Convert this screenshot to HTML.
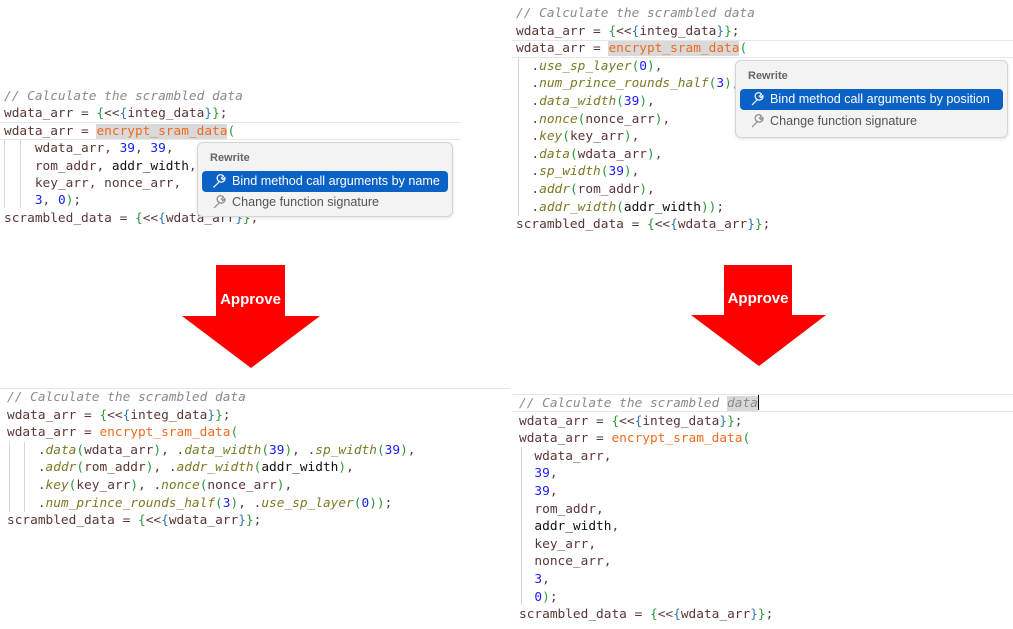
<!DOCTYPE html>
<html><head><meta charset="utf-8"><style>
body{margin:0;width:1013px;height:629px;background:#fff;position:relative;overflow:hidden;font-family:"DejaVu Sans Mono","Liberation Mono",monospace;}
.code{position:absolute;font-size:12.8px;white-space:pre;color:#5b3636;}
.l{position:absolute;left:0;white-space:pre;line-height:17px;}
.c{color:#8a8a8a;font-style:italic}
.f{color:#f06a1e}
.n{color:#1a1aff}
.m{color:#7a7a25;font-style:italic}
.k{color:#111}
.g{color:#2a9a3a}
.b{color:#2a7ab0}
.hl{background:#d9d9d9}
.cur{position:absolute;border-top:1px solid #e6e6e6;border-bottom:1px solid #e6e6e6;height:16px}
.guide{position:absolute;width:1px;background:#d6d6d6}
.pop{position:absolute;background:#f3f3f3;border:1px solid #d4d4d4;border-radius:6px;box-shadow:0 1px 3px rgba(0,0,0,.12);font-family:"Liberation Sans","DejaVu Sans",sans-serif;font-size:12.6px;color:#555;white-space:nowrap}
.pop .t{position:absolute;left:12px;font-weight:bold;font-size:11px;color:#666}
.pop .it{position:absolute;left:4px;right:4px;height:21px;border-radius:4px;line-height:21px;padding-left:30px;box-sizing:border-box}
.pop .sel{background:#0a62c6;color:#fff}
.pop .it svg{position:absolute;left:10px;top:3px}
.arrow{position:absolute}
</style></head><body>

<!-- TOP LEFT -->
<div class="cur" style="left:0;top:122px;width:460px"></div>
<div class="guide" style="left:4px;top:140px;height:68px"></div>
<div class="guide" style="left:20px;top:140px;height:68px"></div>
<div class="code" style="left:4px;top:88px">
<div class="l" style="top:0"><span class="c">// Calculate the scrambled data</span></div>
<div class="l" style="top:17.4px">wdata_arr = <span class="g">{</span>&lt;&lt;<span class="b">{</span>integ_data<span class="b">}</span><span class="g">}</span>;</div>
<div class="l" style="top:34.8px">wdata_arr = <span class="f hl">encrypt_sram_data</span><span class="g">(</span></div>
<div class="l" style="top:52.2px">    wdata_arr, <span class="n">39</span>, <span class="n">39</span>,</div>
<div class="l" style="top:69.6px">    rom_addr, <span class="k">addr_width</span>,</div>
<div class="l" style="top:87px">    key_arr, nonce_arr,</div>
<div class="l" style="top:104.4px">    <span class="n">3</span>, <span class="n">0</span><span class="g">)</span>;</div>
<div class="l" style="top:121.8px">scrambled_data = <span class="g">{</span>&lt;&lt;<span class="b">{</span>wdata_arr<span class="b">}</span><span class="g">}</span>;</div>
</div>
<div class="pop" style="left:197px;top:142px;width:254px;height:73px">
<div class="t" style="top:9px">Rewrite</div>
<div class="it sel" style="top:28px"><svg width="15" height="15" viewBox="0 0 15 15"><path d="M2 13 L7.5 7.5 M7.5 7.5 A3.5 3.5 0 1 1 11.5 2.2 L9.5 4.2 L10.8 5.6 L12.8 3.6 A3.5 3.5 0 0 1 7.5 7.5 Z M1.5 12.5 L2.5 13.5" fill="none" stroke="#fff" stroke-width="1.2"/></svg>Bind method call arguments by name</div>
<div class="it" style="top:49px"><svg width="15" height="15" viewBox="0 0 15 15"><path d="M2 13 L7.5 7.5 M7.5 7.5 A3.5 3.5 0 1 1 11.5 2.2 L9.5 4.2 L10.8 5.6 L12.8 3.6 A3.5 3.5 0 0 1 7.5 7.5 Z" fill="none" stroke="#888" stroke-width="1.2"/></svg>Change function signature</div>
</div>

<!-- TOP RIGHT -->
<div class="cur" style="left:512px;top:40px;width:501px"></div>
<div class="guide" style="left:518px;top:58px;height:158px"></div>
<div class="code" style="left:516px;top:5px">
<div class="l" style="top:0"><span class="c">// Calculate the scrambled data</span></div>
<div class="l" style="top:17.6px">wdata_arr = <span class="g">{</span>&lt;&lt;<span class="b">{</span>integ_data<span class="b">}</span><span class="g">}</span>;</div>
<div class="l" style="top:35.2px">wdata_arr = <span class="f hl">encrypt_sram_data</span><span class="g">(</span></div>
<div class="l" style="top:52.8px">  .<span class="m">use_sp_layer</span><span class="g">(</span><span class="n">0</span><span class="g">)</span>,</div>
<div class="l" style="top:70.4px">  .<span class="m">num_prince_rounds_half</span><span class="g">(</span><span class="n">3</span><span class="g">)</span>,</div>
<div class="l" style="top:88px">  .<span class="m">data_width</span><span class="g">(</span><span class="n">39</span><span class="g">)</span>,</div>
<div class="l" style="top:105.6px">  .<span class="m">nonce</span><span class="g">(</span>nonce_arr<span class="g">)</span>,</div>
<div class="l" style="top:123.2px">  .<span class="m">key</span><span class="g">(</span>key_arr<span class="g">)</span>,</div>
<div class="l" style="top:140.8px">  .<span class="m">data</span><span class="g">(</span>wdata_arr<span class="g">)</span>,</div>
<div class="l" style="top:158.4px">  .<span class="m">sp_width</span><span class="g">(</span><span class="n">39</span><span class="g">)</span>,</div>
<div class="l" style="top:176px">  .<span class="m">addr</span><span class="g">(</span>rom_addr<span class="g">)</span>,</div>
<div class="l" style="top:193.6px">  .<span class="m">addr_width</span><span class="g">(</span><span class="k">addr_width</span><span class="g">))</span>;</div>
<div class="l" style="top:211.2px">scrambled_data = <span class="g">{</span>&lt;&lt;<span class="b">{</span>wdata_arr<span class="b">}</span><span class="g">}</span>;</div>
</div>
<div class="pop" style="left:735px;top:60px;width:271px;height:76px">
<div class="t" style="top:9px">Rewrite</div>
<div class="it sel" style="top:28px"><svg width="15" height="15" viewBox="0 0 15 15"><path d="M2 13 L7.5 7.5 M7.5 7.5 A3.5 3.5 0 1 1 11.5 2.2 L9.5 4.2 L10.8 5.6 L12.8 3.6 A3.5 3.5 0 0 1 7.5 7.5 Z" fill="none" stroke="#fff" stroke-width="1.2"/></svg>Bind method call arguments by position</div>
<div class="it" style="top:50px"><svg width="15" height="15" viewBox="0 0 15 15"><path d="M2 13 L7.5 7.5 M7.5 7.5 A3.5 3.5 0 1 1 11.5 2.2 L9.5 4.2 L10.8 5.6 L12.8 3.6 A3.5 3.5 0 0 1 7.5 7.5 Z" fill="none" stroke="#888" stroke-width="1.2"/></svg>Change function signature</div>
</div>

<!-- ARROWS -->
<svg class="arrow" style="left:0;top:0" width="1013" height="629">
<polygon points="216,265 285,265 285,316 320,316 251,368 182,316 216,316" fill="#ff0000"/>
<polygon points="724,265 792,265 792,315 826,315 759,366 691,315 724,315" fill="#ff0000"/>
<text x="250.5" y="304" text-anchor="middle" font-family="Liberation Sans, sans-serif" font-weight="bold" font-size="15" fill="#fff">Approve</text>
<text x="758" y="303" text-anchor="middle" font-family="Liberation Sans, sans-serif" font-weight="bold" font-size="15" fill="#fff">Approve</text>
</svg>

<!-- BOTTOM LEFT -->
<div class="cur" style="left:0;top:388px;width:510px;border-bottom:none"></div>
<div class="guide" style="left:9px;top:442px;height:70px"></div>
<div class="guide" style="left:24px;top:442px;height:70px"></div>
<div class="code" style="left:7px;top:389px">
<div class="l" style="top:0"><span class="c">// Calculate the scrambled data</span></div>
<div class="l" style="top:17.6px">wdata_arr = <span class="g">{</span>&lt;&lt;<span class="b">{</span>integ_data<span class="b">}</span><span class="g">}</span>;</div>
<div class="l" style="top:35.2px">wdata_arr = <span class="f">encrypt_sram_data</span><span class="g">(</span></div>
<div class="l" style="top:52.8px">    .<span class="m">data</span><span class="g">(</span>wdata_arr<span class="g">)</span>, .<span class="m">data_width</span><span class="g">(</span><span class="n">39</span><span class="g">)</span>, .<span class="m">sp_width</span><span class="g">(</span><span class="n">39</span><span class="g">)</span>,</div>
<div class="l" style="top:70.4px">    .<span class="m">addr</span><span class="g">(</span>rom_addr<span class="g">)</span>, .<span class="m">addr_width</span><span class="g">(</span><span class="k">addr_width</span><span class="g">)</span>,</div>
<div class="l" style="top:88px">    .<span class="m">key</span><span class="g">(</span>key_arr<span class="g">)</span>, .<span class="m">nonce</span><span class="g">(</span>nonce_arr<span class="g">)</span>,</div>
<div class="l" style="top:105.6px">    .<span class="m">num_prince_rounds_half</span><span class="g">(</span><span class="n">3</span><span class="g">)</span>, .<span class="m">use_sp_layer</span><span class="g">(</span><span class="n">0</span><span class="g">))</span>;</div>
<div class="l" style="top:123.2px">scrambled_data = <span class="g">{</span>&lt;&lt;<span class="b">{</span>wdata_arr<span class="b">}</span><span class="g">}</span>;</div>
</div>

<!-- BOTTOM RIGHT -->
<div class="cur" style="left:512px;top:394px;width:501px"></div>
<div class="guide" style="left:521px;top:447px;height:158px"></div>
<div class="code" style="left:519px;top:395px">
<div class="l" style="top:0"><span class="c">// Calculate the scrambled <span class="hl">data</span></span><span style="display:inline-block;width:1px;height:15px;background:#000;vertical-align:-3px"></span></div>
<div class="l" style="top:17.6px">wdata_arr = <span class="g">{</span>&lt;&lt;<span class="b">{</span>integ_data<span class="b">}</span><span class="g">}</span>;</div>
<div class="l" style="top:35.2px">wdata_arr = <span class="f">encrypt_sram_data</span><span class="g">(</span></div>
<div class="l" style="top:52.8px">  wdata_arr,</div>
<div class="l" style="top:70.4px">  <span class="n">39</span>,</div>
<div class="l" style="top:88px">  <span class="n">39</span>,</div>
<div class="l" style="top:105.6px">  rom_addr,</div>
<div class="l" style="top:123.2px">  <span class="k">addr_width</span>,</div>
<div class="l" style="top:140.8px">  key_arr,</div>
<div class="l" style="top:158.4px">  nonce_arr,</div>
<div class="l" style="top:176px">  <span class="n">3</span>,</div>
<div class="l" style="top:193.6px">  <span class="n">0</span><span class="g">)</span>;</div>
<div class="l" style="top:211.2px">scrambled_data = <span class="g">{</span>&lt;&lt;<span class="b">{</span>wdata_arr<span class="b">}</span><span class="g">}</span>;</div>
</div>

</body></html>
